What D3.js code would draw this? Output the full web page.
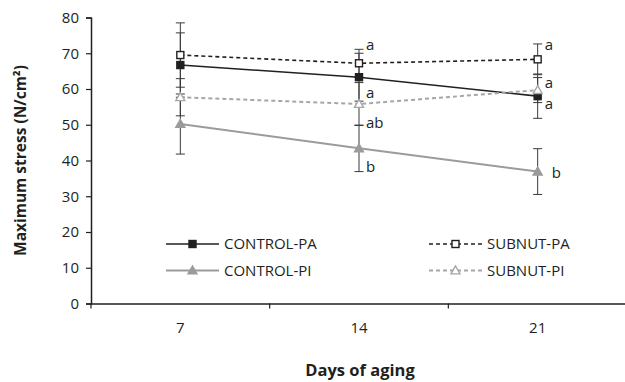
<!DOCTYPE html>
<html>
<head>
<meta charset="utf-8">
<script src="https://cdn.jsdelivr.net/npm/d3@7"></script>
<style>
  body { margin: 0; background: #fff; }
  text { font-family: "Open Sans", sans-serif; fill: #231f20; }
</style>
</head>
<body>
<svg id="chart" width="625" height="382"></svg>
<script>
var days = ["7", "14", "21"];
var yTicks = [0, 10, 20, 30, 40, 50, 60, 70, 80];

var controlPA = [66.7, 63.3, 58.0];
var controlPAErr = [9.0, 6.7, 6.2];
var subnutPA = [69.5, 67.2, 68.3];
var subnutPAErr = [9.0, 3.9, 4.3];
var controlPI = [50.2, 43.4, 36.9];
var controlPIErr = [8.4, 6.5, 6.4];
var subnutPI = [57.7, 55.8, 59.7];
var subnutPIErr = [5.2, 6.0, 3.5];

// significance letters: day, anchor value, letter
var letterDays = ["14", "14", "14", "14", "21", "21", "21", "21"];
var letterValues = [72.3, 58.9, 50.5, 38.2, 72.3, 61.7, 55.8, 36.5];
var letterTexts = ["a", "a", "ab", "b", "a", "a", "a", "b"];

var series = [
  { name: "CONTROL-PA", values: controlPA, err: controlPAErr, color: "#231f20", dash: null, marker: "square", filled: true, width: 1.6 },
  { name: "SUBNUT-PA", values: subnutPA, err: subnutPAErr, color: "#231f20", dash: "4,3", marker: "square", filled: false, width: 1.6 },
  { name: "CONTROL-PI", values: controlPI, err: controlPIErr, color: "#9b9b9b", dash: null, marker: "triangle", filled: true, width: 2 },
  { name: "SUBNUT-PI", values: subnutPI, err: subnutPIErr, color: "#a6a6a6", dash: "4,3", marker: "triangle", filled: false, width: 2 }
];

var svg = d3.select("#chart");
var margin = { top: 17.5, left: 91, right: -2, bottom: 78.5 };
var width = 625 - margin.left - margin.right;
var height = 382 - margin.top - margin.bottom;

var g = svg.append("g").attr("transform", "translate(" + margin.left + "," + margin.top + ")");

var x = d3.scaleBand().domain(days).range([0, width]);
var y = d3.scaleLinear().domain([0, 80]).range([height, 0]);

function cx(d) {
  return x(d) + x.bandwidth() / 2;
}

// y axis
var yAxis = g.append("g").call(d3.axisLeft(y).tickValues(yTicks).tickSize(5).tickPadding(7));
yAxis.select(".domain").attr("stroke", "#231f20").attr("stroke-width", 1.5);
yAxis.selectAll(".tick line").attr("stroke", "#231f20").attr("stroke-width", 1.2);
yAxis.selectAll("text").style("font-size", "15px").attr("fill", "#231f20");

// x axis
var xAxis = g.append("g")
  .attr("transform", "translate(0," + height + ")")
  .call(d3.axisBottom(x).tickSize(0).tickPadding(19).tickSizeOuter(0));
xAxis.select(".domain").attr("stroke", "#231f20").attr("stroke-width", 1.5);
xAxis.selectAll("text").style("font-size", "15px").attr("fill", "#231f20");
var bounds = days.map(function (d) { return x(d); }).concat([x(days[days.length - 1]) + x.step()]);
xAxis.selectAll(".bound")
  .data(bounds)
  .enter()
  .append("line")
  .attr("x1", function (d) { return d; })
  .attr("x2", function (d) { return d; })
  .attr("y1", 0)
  .attr("y2", 5)
  .attr("stroke", "#231f20")
  .attr("stroke-width", 1.2);

// error bars
series.forEach(function (s) {
  var eb = g.append("g");
  days.forEach(function (d, i) {
    var top = y(s.values[i] + s.err[i]);
    var bot = y(s.values[i] - s.err[i]);
    var px = cx(d);
    eb.append("line").attr("x1", px).attr("x2", px).attr("y1", top).attr("y2", bot)
      .attr("stroke", "#3a3a3a").attr("stroke-width", 1);
    [top, bot].forEach(function (py) {
      eb.append("line").attr("x1", px - 4.5).attr("x2", px + 4.5).attr("y1", py).attr("y2", py)
        .attr("stroke", "#3a3a3a").attr("stroke-width", 1);
    });
  });
});

function drawMarker(sel, s, px, py) {
  if (s.marker === "square") {
    sel.append("rect")
      .attr("x", px - 3.5).attr("y", py - 3.5)
      .attr("width", 7).attr("height", 7)
      .attr("fill", s.filled ? s.color : "#fff")
      .attr("stroke", s.color)
      .attr("stroke-width", 1.4);
  } else {
    var sz = 4.5;
    sel.append("path")
      .attr("d", "M" + px + "," + (py - sz) + "L" + (px + sz) + "," + (py + sz * 0.75) + "L" + (px - sz) + "," + (py + sz * 0.75) + "Z")
      .attr("fill", s.filled ? s.color : "#fff")
      .attr("stroke", s.color)
      .attr("stroke-width", 1.4);
  }
}

// lines and markers
var line = d3.line()
  .x(function (d) { return cx(d[0]); })
  .y(function (d) { return y(d[1]); });

series.forEach(function (s) {
  var pts = days.map(function (d, i) { return [d, s.values[i]]; });
  g.append("path")
    .attr("d", line(pts))
    .attr("fill", "none")
    .attr("stroke", s.color)
    .attr("stroke-width", s.width)
    .attr("stroke-dasharray", s.dash);
  pts.forEach(function (p) {
    drawMarker(g, s, cx(p[0]), y(p[1]));
  });
});

// letters
letterTexts.forEach(function (t, i) {
  g.append("text")
    .attr("x", cx(letterDays[i]) + (t === "b" && letterDays[i] === "21" ? 14 : 7))
    .attr("y", y(letterValues[i]))
    .attr("dy", "0.35em")
    .style("font-size", "15px")
    .text(t);
});

// legend
var legendX = [75, 338];
var legendY = [226.5, 253];
series.forEach(function (s, i) {
  var lx = legendX[i % 2];
  var ly = legendY[Math.floor(i / 2)];
  var lg = g.append("g");
  lg.append("line")
    .attr("x1", lx).attr("x2", lx + 53)
    .attr("y1", ly).attr("y2", ly)
    .attr("stroke", s.color)
    .attr("stroke-width", s.width)
    .attr("stroke-dasharray", s.dash);
  drawMarker(lg, s, lx + 26.5, ly);
  lg.append("text")
    .attr("x", lx + 58)
    .attr("y", ly)
    .attr("dy", "0.35em")
    .style("font-size", "15px")
    .text(s.name);
});

// axis titles
svg.append("text")
  .attr("transform", "rotate(-90)")
  .attr("x", -(margin.top + height / 2))
  .attr("y", 26)
  .attr("text-anchor", "middle")
  .style("font-size", "15.5px")
  .style("font-weight", "bold")
  .text("Maximum stress (N/cm²)");

svg.append("text")
  .attr("x", 360)
  .attr("y", 376)
  .attr("text-anchor", "middle")
  .style("font-size", "16.5px")
  .style("font-weight", "bold")
  .text("Days of aging");
</script>
</body>
</html>
